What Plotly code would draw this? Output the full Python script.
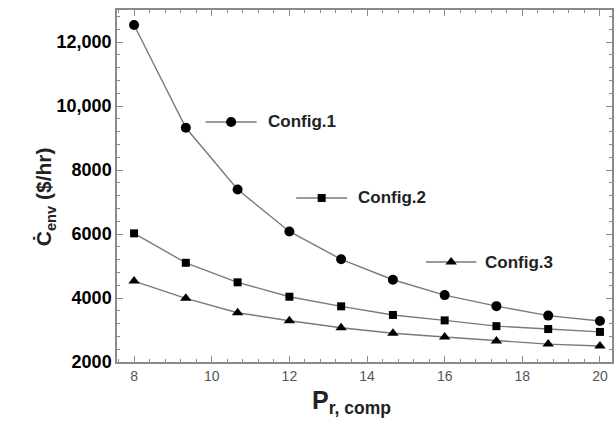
import plotly.graph_objects as go

# Compressor pressure ratio
pr_comp = [8, 9.333, 10.667, 12, 13.333, 14.667, 16, 17.333, 18.667, 20]

# Environmental cost rate ($/hr) for each configuration
config1 = [12530, 9320, 7390, 6080, 5210, 4570, 4090, 3745, 3450, 3280]
config2 = [6020, 5100, 4490, 4040, 3740, 3470, 3300, 3120, 3030, 2940]
config3 = [4530, 3990, 3540, 3290, 3070, 2900, 2780, 2660, 2560, 2500]

series_names = ["Config.1", "Config.2", "Config.3"]
series_symbols = ["circle", "square", "triangle-up"]
series_sizes = [10, 8, 10]

y_tickvals = [2000, 4000, 6000, 8000, 10000, 12000]
y_ticktext = ["2000", "4000", "6000", "8000", "10,000", "12,000"]
x_tickvals = [8, 10, 12, 14, 16, 18, 20]

LINE = "#7a7a7a"
AXIS = "#8a8a8a"
FONT = "Liberation Sans, Arial, sans-serif"

fig = go.Figure()

for name, ys, sym, sz in zip(series_names, [config1, config2, config3],
                             series_symbols, series_sizes):
    fig.add_trace(go.Scatter(
        x=pr_comp, y=ys, mode="lines+markers", name=name,
        line=dict(color=LINE, width=1.4),
        marker=dict(symbol=sym, size=sz, color="black"),
        showlegend=False,
    ))

# Inline legend keys on an overlay axis spanning the plot area (0..1)
keys = [  # (x0, x1, y, text x)
    (0.179, 0.282, 0.682, 0.302),
    (0.362, 0.465, 0.466, 0.483),
    (0.624, 0.726, 0.284, 0.740),
]
for (x0, x1, yk, xt), name, sym, sz in zip(keys, series_names,
                                           series_symbols, series_sizes):
    fig.add_trace(go.Scatter(
        x=[x0, (x0 + x1) / 2, x1], y=[yk, yk, yk],
        xaxis="x2", yaxis="y2", mode="lines",
        line=dict(color=LINE, width=1.4), showlegend=False, hoverinfo="skip",
    ))
    fig.add_trace(go.Scatter(
        x=[(x0 + x1) / 2], y=[yk], xaxis="x2", yaxis="y2", mode="markers",
        marker=dict(symbol=sym, size=sz, color="black"),
        showlegend=False, hoverinfo="skip",
    ))
    fig.add_annotation(
        x=xt, y=yk, xref="x2", yref="y2", text=f"<b>{name}</b>",
        showarrow=False, xanchor="left", yanchor="middle",
        font=dict(family=FONT, size=17, color="#222"),
    )

axis_common = dict(
    showgrid=False, zeroline=False, showline=True, linecolor=AXIS,
    linewidth=1.5, mirror="allticks", ticks="inside", ticklen=6,
    tickcolor=AXIS, tickwidth=1.2,
)

fig.update_layout(
    width=615, height=429,
    margin=dict(l=117, r=1, t=10, b=67),
    paper_bgcolor="white", plot_bgcolor="white",
    font=dict(family=FONT),
    xaxis=dict(
        range=[7.56, 20.31], tickvals=x_tickvals,
        tickfont=dict(family=FONT, size=14, color="#555"),
        minor=dict(dtick=0.4, tick0=8, ticks="inside", ticklen=3,
                   tickcolor=AXIS, tickwidth=1),
        **axis_common,
    ),
    yaxis=dict(
        range=[2000, 13000], tickvals=y_tickvals, ticktext=y_ticktext,
        tickfont=dict(family=FONT, size=18, color="black", weight="bold"),
        minor=dict(dtick=400, tick0=2000, ticks="inside", ticklen=3,
                   tickcolor=AXIS, tickwidth=1),
        **axis_common,
    ),
    xaxis2=dict(range=[0, 1], overlaying="x", visible=False),
    yaxis2=dict(range=[0, 1], overlaying="y", visible=False),
)

# Axis titles
fig.add_annotation(
    x=-0.175, y=0.469, xref="paper", yref="paper", textangle=-90,
    text="<b>Ċ<sub>env</sub> ($/hr)</b>", showarrow=False,
    font=dict(family=FONT, size=21, color="#222"),
)
fig.add_annotation(
    x=0.473, y=-0.115, xref="paper", yref="paper",
    text="<b>P<sub>r, comp</sub></b>", showarrow=False,
    xanchor="center", yanchor="middle",
    font=dict(family=FONT, size=25, color="#222"),
)

fig.write_html("out.html")
